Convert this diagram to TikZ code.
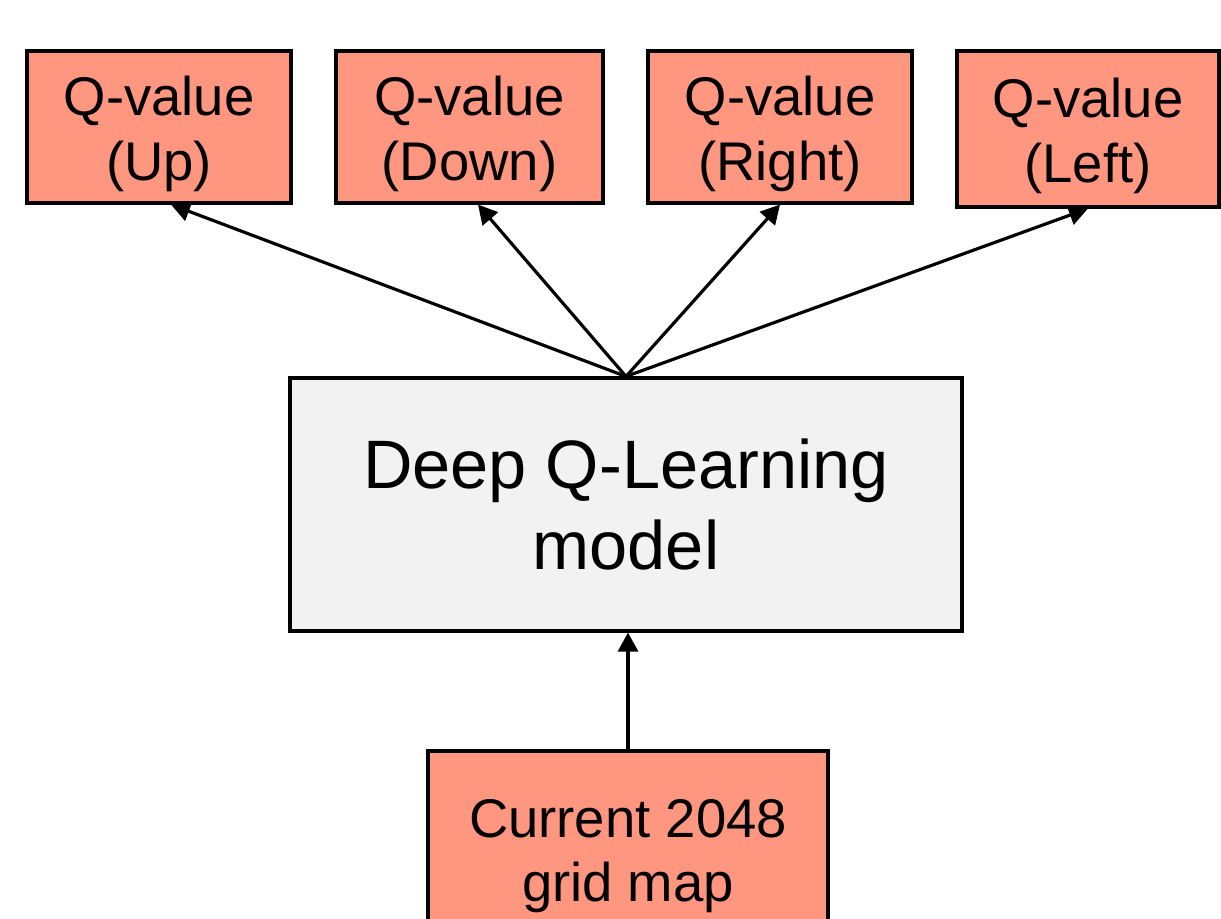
\documentclass[tikz,border=0pt]{standalone}
\usepackage{fontspec}
\setmainfont{Liberation Sans}
\usetikzlibrary{arrows.meta}
\definecolor{qsalmon}{HTML}{FF9680}
\definecolor{modelgray}{HTML}{F2F2F2}
\newcommand{\qstrut}{\rule{0pt}{0.99em}}

\begin{document}
\begin{tikzpicture}[x=0.02cm,y=-0.02cm,
    qbox/.style={draw,line width=1.8pt,fill=qsalmon,inner sep=0pt,align=center,
      minimum height=3.04cm,font=\fontsize{31}{37}\selectfont},
    link/.style={line width=1.8pt,-{Triangle[length=0.38cm,width=0.4cm]}}]
  \clip (0,0) rectangle (1221,919);
  \node[qbox,minimum width=5.28cm] (up) at (159,127) {\qstrut Q-value\\(Up)};
  \node[qbox,minimum width=5.34cm] (down) at (469.5,127) {\qstrut Q-value\\(Down)};
  \node[qbox,minimum width=5.28cm] (right) at (780,127) {\qstrut Q-value\\(Right)};
  \node[qbox,minimum width=5.24cm,minimum height=3.12cm] (left) at (1088,129) {\qstrut Q-value\\(Left)};
  \node[draw,line width=1.8pt,fill=modelgray,inner sep=0pt,align=center,
    minimum width=13.44cm,minimum height=5.06cm,
    font=\fontsize{39}{46.5}\selectfont] (model) at (626,504.5) {Deep Q-Learning\\model};
  \node[qbox,minimum width=8cm,minimum height=4.2cm,
    font=\fontsize{31}{36.3}\selectfont] (grid) at (628,856) {Current 2048\\grid map};
  \draw[link] (model.north) -- ([xshift=0.24cm]up.south);
  \draw[link] (model.north) -- ([xshift=0.17cm]down.south);
  \draw[link] (model.north) -- (right.south);
  \draw[link] (model.north) -- (left.south);
  \draw[link] (grid.north) -- (model.south -| grid.north);
\end{tikzpicture}
\end{document}
